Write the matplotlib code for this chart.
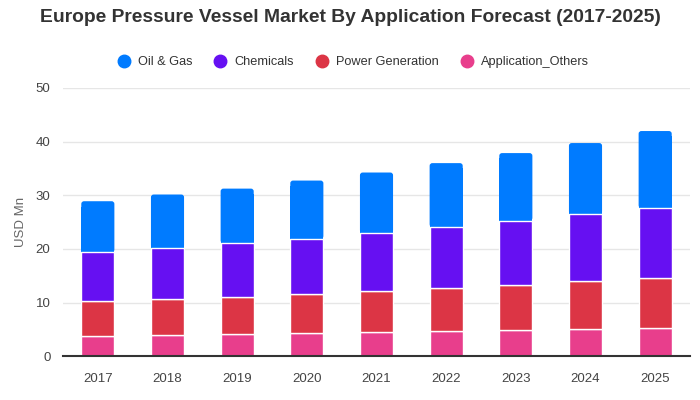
import matplotlib.pyplot as plt
import numpy as np
from matplotlib.patches import FancyBboxPatch, Rectangle
from matplotlib.lines import Line2D

plt.rcParams['font.family'] = ['Liberation Sans', 'DejaVu Sans']

# Данные
years = ['2017', '2018', '2019', '2020', '2021', '2022', '2023', '2024', '2025']
others = [3.7, 3.9, 4.1, 4.3, 4.5, 4.7, 4.9, 5.05, 5.2]
power = [6.6, 6.75, 6.9, 7.35, 7.65, 8.0, 8.45, 8.95, 9.35]
chemicals = [9.1, 9.55, 10.1, 10.25, 10.85, 11.4, 11.95, 12.5, 13.1]
oil_gas = [9.5, 9.95, 10.15, 10.85, 11.25, 11.9, 12.57, 13.24, 14.33]

colors = ['#007bff', '#6610f2', '#dc3545', '#e83e8c']
labels = ['Oil & Gas', 'Chemicals', 'Power Generation', 'Application_Others']

fig = plt.figure(figsize=(7, 4), dpi=100)
ax = fig.add_axes([63 / 700, 1 - 356.3 / 400, 627 / 700, (356.3 - 88) / 400])
ax.set_axisbelow(True)

x = np.arange(len(years))
w = 0.475
b1 = np.array(others)
b2 = b1 + np.array(power)
b3 = b2 + np.array(chemicals)

# верхний сегмент со скруглёнными углами
for xi, b, h in zip(x, b3, oil_gas):
    r = 0.04
    p = FancyBboxPatch((xi - w / 2, b), w, h,
                       boxstyle=f'round,pad=0,rounding_size={r}',
                       mutation_aspect=12.5, facecolor=colors[0],
                       edgecolor='none', zorder=3)
    ax.add_patch(p)
    ax.add_patch(Rectangle((xi - w / 2, b), w, h - 1, facecolor=colors[0],
                           edgecolor='none', zorder=3))

ax.bar(x, others, w, color=colors[3], edgecolor='white', linewidth=1, zorder=4)
ax.bar(x, power, w, bottom=b1, color=colors[2], edgecolor='white', linewidth=1, zorder=4)
ax.bar(x, chemicals, w, bottom=b2, color=colors[1], edgecolor='white', linewidth=1, zorder=4)

ax.set_xlim(-0.5, len(years) - 0.5)
ax.set_ylim(0, 50)
ax.set_yticks([0, 10, 20, 30, 40, 50])
ax.set_xticks(x)
ax.set_xticklabels(years)
ax.tick_params(axis='both', length=0, labelsize=9.5, colors='#444444')
ax.tick_params(axis='x', pad=12)
ax.tick_params(axis='y', pad=9)
ax.grid(axis='y', color='#e6e6e6', linewidth=1)
for s in ['top', 'right', 'left']:
    ax.spines[s].set_visible(False)
ax.spines['bottom'].set_color('#333333')
ax.spines['bottom'].set_linewidth(1.5)
ax.spines['bottom'].set_zorder(5)
ax.set_ylabel('USD Mn', fontsize=9.5, color='#666666', labelpad=6)

fig.text(0.5, 1 - 18 / 400, 'Europe Pressure Vessel Market By Application Forecast (2017-2025)',
         ha='center', va='center', fontsize=13.9, fontweight='bold', color='#333333')

handles = [Line2D([], [], marker='o', linestyle='none', markersize=9,
                  markerfacecolor=c, markeredgecolor=c) for c in colors]
fig.legend(handles, labels, loc='center', bbox_to_anchor=(0.5, 1 - 62 / 400),
           ncol=4, frameon=False, fontsize=9.2, handletextpad=0.1,
           columnspacing=1.2, labelcolor='#333333')

plt.savefig('out.png', dpi=100)
